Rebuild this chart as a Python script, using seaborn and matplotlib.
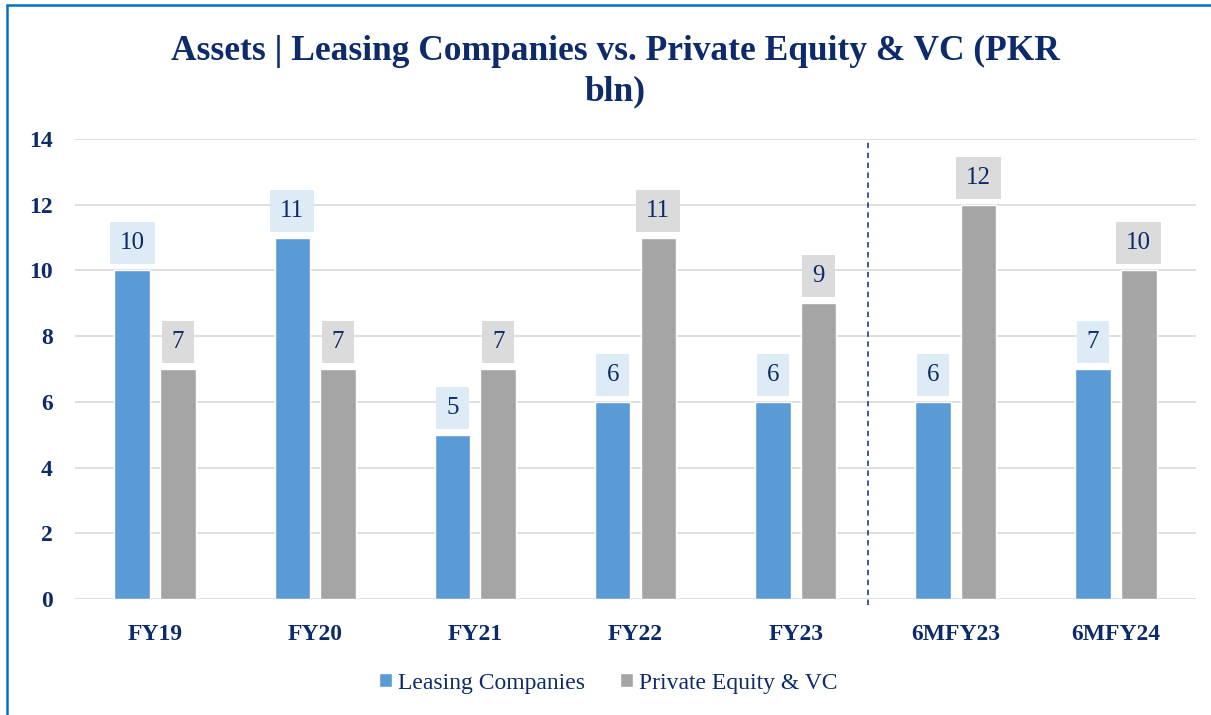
import matplotlib
matplotlib.use('Agg')
import matplotlib.pyplot as plt
from matplotlib.patches import Rectangle
import seaborn as sns
import pandas as pd

# chart data
periods = ['FY19', 'FY20', 'FY21', 'FY22', 'FY23', '6MFY23', '6MFY24']
leasing = [10, 11, 5, 6, 6, 6, 7]
private_equity = [7, 7, 7, 11, 9, 12, 10]
series_names = ['Leasing Companies', 'Private Equity & VC']
y_ticks = [0, 2, 4, 6, 8, 10, 12, 14]

NAVY = '#0D2B6B'
BLUE = '#5B9BD5'
GRAY = '#A5A5A5'

sns.set_style('white')
plt.rcParams['font.family'] = ['Liberation Serif', 'DejaVu Serif']

df = pd.DataFrame({
    'period': periods * 2,
    'value': leasing + private_equity,
    'series': [series_names[0]] * len(periods) + [series_names[1]] * len(periods),
})

fig = plt.figure(figsize=(12.11, 7.15), dpi=100)
ax = fig.add_axes([75 / 1211, 116 / 715, 1121 / 1211, 460 / 715])

sns.barplot(data=df, x='period', y='value', hue='series', order=periods,
            hue_order=series_names, palette=[BLUE, GRAY], width=0.57, gap=0.22,
            saturation=1, ax=ax, legend=False, zorder=3)

ax.set_xlim(-0.5, len(periods) - 0.5)
ax.set_ylim(0, 14)
ax.set_yticks(y_ticks)
ax.yaxis.grid(True, color='#D9D9D9', linewidth=1.2, zorder=0)
ax.set_axisbelow(True)
for s in ax.spines.values():
    s.set_visible(False)
ax.set_xlabel('')
ax.set_ylabel('')
ax.tick_params(axis='both', length=0, labelsize=17, labelcolor=NAVY)
ax.tick_params(axis='y', pad=16)
ax.tick_params(axis='x', pad=18)
for lbl in ax.get_xticklabels() + ax.get_yticklabels():
    lbl.set_fontweight('bold')

# data labels in shaded boxes
box_colors = ['#DDEBF7', '#DBDBDB']
for cont, bc in zip(ax.containers, box_colors):
    ax.bar_label(cont, fmt='%d', padding=11.5, fontsize=18, color=NAVY,
                 bbox=dict(boxstyle='square,pad=0.4', facecolor=bc, edgecolor='none'))

# divider between full-year and half-year figures
ax.plot([4.45, 4.45], [-0.18, 14], linestyle=(0, (3, 2.5)), color='#2F4E8C',
        linewidth=1.3, clip_on=False, zorder=4)

fig.text(615 / 1211, 1 - 35 / 715, 'Assets | Leasing Companies vs. Private Equity & VC (PKR\nbln)',
         ha='center', va='top', fontsize=25.5, fontweight='bold', color=NAVY,
         linespacing=1.3)

handles = [Rectangle((0, 0), 1, 1, facecolor=c) for c in [BLUE, GRAY]]
fig.legend(handles, series_names, loc='center', bbox_to_anchor=(608 / 1211, 1 - 683 / 715),
           ncol=2, frameon=False, fontsize=17, labelcolor=NAVY,
           handlelength=0.55, handleheight=0.55, handletextpad=0.25, columnspacing=1.5)

# outer border of the chart area
fig.patches.append(Rectangle((7 / 1211, -0.1), 1.2, 1.1 - 5 / 715, transform=fig.transFigure,
                             fill=False, edgecolor='#0070C0', linewidth=1.8))

fig.savefig('out.png', dpi=100)
